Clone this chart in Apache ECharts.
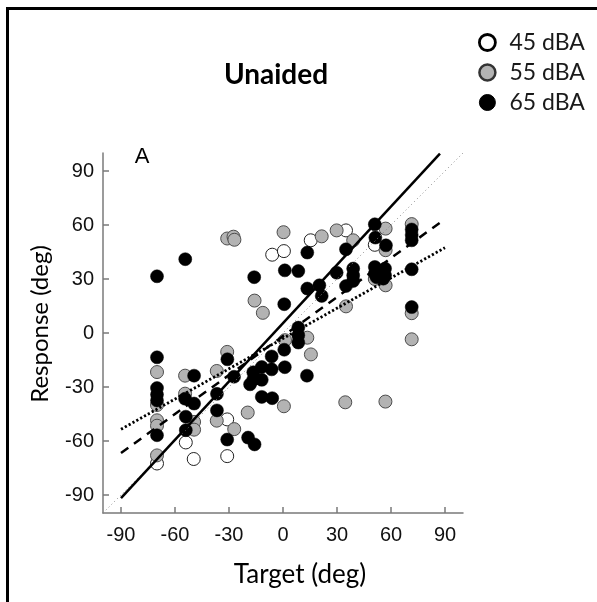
<!DOCTYPE html>
<html>
<head>
<meta charset="utf-8">
<script src="https://cdn.jsdelivr.net/npm/echarts@6/dist/echarts.min.js"></script>
<style>
html,body{margin:0;padding:0;background:#fff;}
#chart{width:597px;height:602px;}
</style>
</head>
<body>
<div id="chart"></div>
<script>
// ---- Data ----
var tickValues = [-90, -60, -30, 0, 30, 60, 90];
var legendNames = ['45 dBA', '55 dBA', '65 dBA'];

var white45 = [[-6,43.5],[0.5,45.5],[15.4,51.5],[35,57],[51,49],[-70,-72.5],[-54,-60.8],[-49.6,-70],[-31,-48],[-31,-68.4]];

var gray55 = [[-31,52.5],[-27.5,53.5],[-27,51.8],[0.3,56],[21.5,53.7],[29.8,57],[39,51.5],[57,58],[71.5,60.5],[57,46],
  [-15.8,18],[-11.2,11.2],[35,14.8],[71.5,11],[71.5,-3.5],[13.5,-2.6],[1.1,-4],[15.5,-11.9],[0.5,-40.7],[34.6,-38.5],
  [56.9,-38.1],[-31,-10.5],[-36.8,-21.1],[-54.4,-23.7],[-54.4,-33.7],[-49.4,-49.4],[-49.4,-53.7],[-36.8,-48.7],[-27.1,-53.4],
  [-19.6,-44.2],[-70,-21.7],[-70,-40],[-70,-48.5],[-70,-51.5],[-70,-68],[51,30],[57,26.5]];

var black65 = [[-70,31.5],[-54.3,41],[-16,31],[1,34.8],[8.5,34.4],[13.5,44.7],[35,46.5],[29.8,33.5],[39,35.8],[39,32],
  [39,28.9],[35,26.1],[13.5,24.7],[20.2,26.5],[21.5,20.6],[0.7,16],[51,60.4],[51.3,53],[57.2,48.7],[71.5,57.5],
  [71.5,54.5],[71.5,51.5],[71.5,35.4],[71.5,14.4],[51,36.7],[51,33],[56.7,35.8],[56.7,32],[52,31],[55.7,30.2],
  [8.5,3],[8.5,-1.3],[8.5,-5.3],[0.7,-9.3],[-6.3,-13],[-6.3,-20.2],[1,-19],[13.3,-23.7],[-6,-36.2],[-11.8,-35.5],
  [-11.8,-18.9],[-16.5,-21.8],[-11.8,-26],[-16.5,-25.9],[-18.3,-28.5],[-30.9,-14.6],[-27.2,-24.3],[-36.7,-33.8],[-36.7,-43],
  [-31,-59.2],[-19.4,-58.1],[-15.8,-61.9],[-70,-13.5],[-70,-30.6],[-70,-34.2],[-70,-37.5],[-70,-56.8],[-49.4,-23.7],
  [-54.4,-36.5],[-49.4,-39.2],[-54,-46.5],[-54,-54]];

var identityLine = [[-100,-100],[100,100]];
var fitDotted = [[-90,-53.5],[90,47.4]];
var fitDashed = [[-90,-66.7],[88.5,62.2]];
var fitSolid = [[-90,-91.7],[87.2,99.7]];

// ---- Chart ----
var chart = echarts.init(document.getElementById('chart'), null, {renderer:'canvas'});
var axisCommon = {
  type: 'value', min: -100, max: 100,
  axisLine: {show: true, onZero: false, lineStyle: {color: '#7a7a7a', width: 1.5}},
  axisTick: {show: true, inside: true, length: 6, customValues: tickValues, lineStyle: {color: '#7a7a7a', width: 1.5}},
  axisLabel: {customValues: tickValues, fontFamily: 'Liberation Sans', fontSize: 20, color: '#111'},
  splitLine: {show: false}
};
var sym = 13;
chart.setOption({
  animation: false,
  backgroundColor: '#fff',
  grid: {left: 103, top: 153, width: 360, height: 360, containLabel: false},
  xAxis: Object.assign({}, axisCommon, {axisLabel: Object.assign({}, axisCommon.axisLabel, {margin: 12})}),
  yAxis: Object.assign({}, axisCommon, {axisLabel: Object.assign({}, axisCommon.axisLabel, {margin: 9})}),
  legend: {
    orient: 'vertical', left: 473, top: 26,
    itemWidth: 16, itemHeight: 16, itemGap: 7,
    icon: 'circle',
    textStyle: {fontFamily: 'Lato', fontSize: 23, color: '#1a1a1a', lineHeight: 23, padding: [0,0,0,9]},
    data: [
      {name: legendNames[0], itemStyle: {color: '#fff', borderColor: '#000', borderWidth: 2.8}},
      {name: legendNames[1], itemStyle: {color: '#b3b3b3', borderColor: '#333', borderWidth: 2.5}},
      {name: legendNames[2], itemStyle: {color: '#000', borderColor: '#000', borderWidth: 1}}
    ]
  },
  series: [
    {name: legendNames[0], type: 'scatter', data: white45, symbolSize: sym, z: 2,
      itemStyle: {color: '#fff', borderColor: '#222', borderWidth: 1, opacity: 1}},
    {name: legendNames[1], type: 'scatter', data: gray55, symbolSize: sym, z: 3,
      itemStyle: {color: '#b3b3b3', borderColor: '#4d4d4d', borderWidth: 1, opacity: 1}},
    {name: legendNames[2], type: 'scatter', data: black65, symbolSize: sym, z: 4,
      itemStyle: {color: '#000', borderColor: '#000', borderWidth: 0.5, opacity: 1}},
    {name: 'identity', type: 'line', data: identityLine, symbol: 'none', z: 5, silent: true,
      lineStyle: {color: '#8a8a8a', width: 1, type: [1, 3]}},
    {name: 'fitDotted', type: 'line', data: fitDotted, symbol: 'none', z: 6, silent: true,
      lineStyle: {color: '#000', width: 2.8, type: [2.2, 2.2]}},
    {name: 'fitDashed', type: 'line', data: fitDashed, symbol: 'none', z: 6, silent: true,
      lineStyle: {color: '#000', width: 2.5, type: [9, 7]}},
    {name: 'fitSolid', type: 'line', data: fitSolid, symbol: 'none', z: 6, silent: true,
      lineStyle: {color: '#000', width: 2.5}}
  ],
  graphic: [
    {type: 'line', shape: {x1: 6, y1: 8.5, x2: 597, y2: 8.5}, style: {stroke: '#000', lineWidth: 3}},
    {type: 'line', shape: {x1: 7.5, y1: 7, x2: 7.5, y2: 602}, style: {stroke: '#000', lineWidth: 3}},
    {type: 'text', x: 276, y: 75, style: {text: 'Unaided', fontFamily: 'Lato', fontWeight: 'bold', fontSize: 28, fill: '#000', align: 'center', verticalAlign: 'middle'}},
    {type: 'text', x: 142, y: 157, style: {text: 'A', fontFamily: 'Liberation Sans', fontSize: 22, fill: '#000', align: 'center', verticalAlign: 'middle'}},
    {type: 'text', x: 300, y: 575, style: {text: 'Target (deg)', fontFamily: 'Lato', fontSize: 26, fill: '#000', align: 'center', verticalAlign: 'middle'}},
    {type: 'text', x: 40, y: 324, rotation: Math.PI/2, style: {text: 'Response (deg)', fontFamily: 'Lato', fontSize: 24, fill: '#000', align: 'center', verticalAlign: 'middle'}}
  ]
});
</script>
</body>
</html>
